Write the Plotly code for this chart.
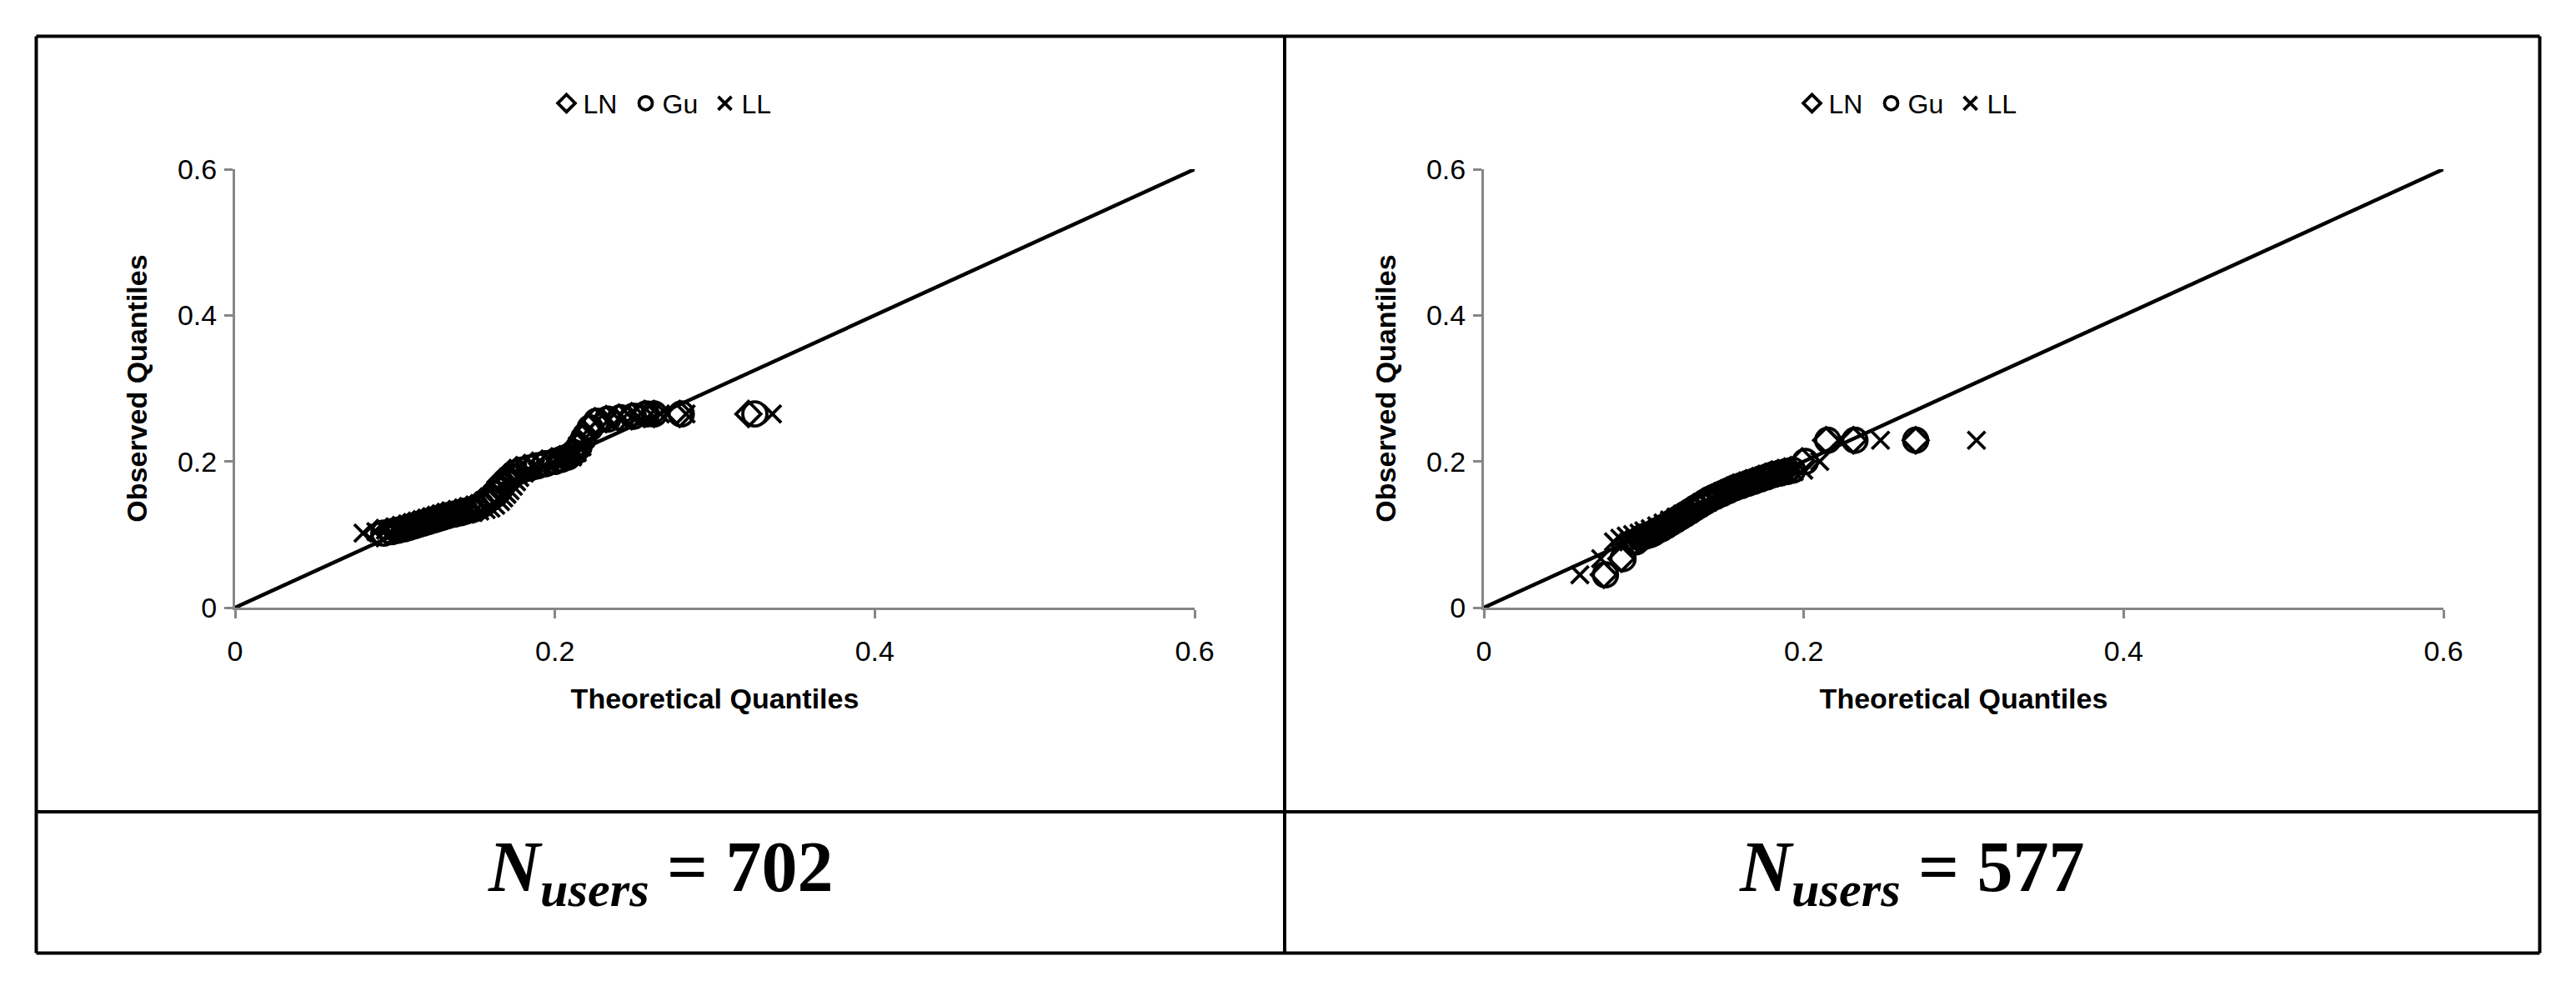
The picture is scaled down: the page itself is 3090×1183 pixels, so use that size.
import plotly.graph_objects as go

W, H = 3090, 1183

# ---------------- data ----------------
dist_names = ["LN", "Gu", "LL"]
n_users = [702, 577]
tick_vals = [0, 0.2, 0.4, 0.6]
tick_text = ["0", "0.2", "0.4", "0.6"]
diag_line = [0, 0.6]

# Panel 1: N_users = 702  (observed quantiles, theoretical quantiles per distribution)
obs_702 = [0.102, 0.104, 0.106, 0.108, 0.110, 0.112, 0.114, 0.116, 0.118, 0.120,
           0.122, 0.124, 0.126, 0.128, 0.130, 0.132, 0.134, 0.136, 0.140, 0.145,
           0.150, 0.155, 0.160, 0.166, 0.172, 0.178, 0.184, 0.188, 0.191, 0.194,
           0.197, 0.200, 0.203, 0.206, 0.212, 0.220, 0.232, 0.246, 0.255, 0.258,
           0.260, 0.262, 0.265, 0.265, 0.265, 0.265]
ln_702 = [0.089, 0.095, 0.099, 0.103, 0.106, 0.109, 0.112, 0.115, 0.118, 0.121,
          0.124, 0.127, 0.130, 0.134, 0.138, 0.141, 0.145, 0.148, 0.151, 0.154,
          0.157, 0.160, 0.162, 0.164, 0.166, 0.169, 0.172, 0.176, 0.181, 0.186,
          0.192, 0.198, 0.203, 0.207, 0.211, 0.214, 0.217, 0.221, 0.225, 0.232,
          0.240, 0.248, 0.256, 0.262, 0.278, 0.321]
gu_702 = [0.093, 0.098, 0.102, 0.106, 0.109, 0.112, 0.115, 0.118, 0.121, 0.124,
          0.127, 0.130, 0.133, 0.137, 0.141, 0.144, 0.148, 0.151, 0.154, 0.157,
          0.160, 0.163, 0.165, 0.167, 0.169, 0.172, 0.175, 0.179, 0.184, 0.189,
          0.194, 0.200, 0.204, 0.208, 0.212, 0.215, 0.218, 0.222, 0.226, 0.233,
          0.241, 0.249, 0.257, 0.262, 0.279, 0.325]
ll_702 = [0.080, 0.088, 0.094, 0.099, 0.104, 0.108, 0.112, 0.116, 0.120, 0.125,
          0.129, 0.134, 0.139, 0.144, 0.149, 0.153, 0.157, 0.160, 0.163, 0.166,
          0.168, 0.170, 0.172, 0.174, 0.176, 0.178, 0.181, 0.184, 0.188, 0.193,
          0.198, 0.203, 0.207, 0.211, 0.214, 0.217, 0.219, 0.222, 0.226, 0.234,
          0.243, 0.252, 0.260, 0.266, 0.282, 0.336]

# Panel 2: N_users = 577
obs_577 = [0.045, 0.067, 0.090, 0.095, 0.098, 0.100, 0.102, 0.105, 0.108, 0.112,
           0.116, 0.120, 0.124, 0.128, 0.132, 0.136, 0.140, 0.144, 0.148, 0.152,
           0.156, 0.160, 0.164, 0.167, 0.170, 0.173, 0.176, 0.179, 0.182, 0.184,
           0.186, 0.188, 0.200, 0.229, 0.229, 0.229]
ln_577 = [0.075, 0.086, 0.094, 0.097, 0.100, 0.103, 0.105, 0.107, 0.110, 0.113,
          0.116, 0.119, 0.122, 0.125, 0.128, 0.131, 0.134, 0.137, 0.140, 0.144,
          0.148, 0.152, 0.156, 0.160, 0.164, 0.168, 0.172, 0.176, 0.180, 0.184,
          0.188, 0.192, 0.199, 0.214, 0.231, 0.270]
gu_577 = [0.076, 0.087, 0.095, 0.098, 0.101, 0.104, 0.106, 0.108, 0.111, 0.114,
          0.117, 0.120, 0.123, 0.126, 0.129, 0.132, 0.135, 0.138, 0.141, 0.145,
          0.149, 0.153, 0.157, 0.161, 0.165, 0.169, 0.173, 0.177, 0.181, 0.185,
          0.189, 0.193, 0.201, 0.215, 0.232, 0.270]
ll_577 = [0.060, 0.073, 0.081, 0.085, 0.089, 0.093, 0.097, 0.100, 0.104, 0.108,
          0.112, 0.116, 0.120, 0.124, 0.128, 0.132, 0.136, 0.140, 0.143, 0.147,
          0.151, 0.155, 0.159, 0.163, 0.167, 0.171, 0.175, 0.179, 0.184, 0.189,
          0.194, 0.200, 0.210, 0.222, 0.248, 0.308]

panels = [
    (obs_702, [ln_702, gu_702, ll_702]),
    (obs_577, [ln_577, gu_577, ll_577]),
]

# ---------------- styles ----------------
marker_styles = {
    "LN": dict(symbol="diamond-open", size=23),
    "Gu": dict(symbol="circle-open", size=29),
    "LL": dict(symbol="x-thin-open", size=21),
}
SANS = "Liberation Sans, Arial, sans-serif"
TICK_FONT = dict(family=SANS, size=34, color="black")
AXIS_GRAY = "#868686"


def px_x(p):
    return p / W


def px_y(p):
    return 1 - p / H


x_domains = [[px_x(282), px_x(1433)], [px_x(1780), px_x(2931)]]
y_domain = [px_y(729), px_y(203)]

fig = go.Figure()

for i, (obs, theos) in enumerate(panels):
    xa = "x" if i == 0 else "x2"
    ya = "y" if i == 0 else "y2"
    leg = "legend" if i == 0 else "legend2"
    for name, theo in zip(dist_names, theos):
        st = marker_styles[name]
        fig.add_trace(go.Scatter(
            x=theo, y=obs, mode="markers", name=name,
            xaxis=xa, yaxis=ya, legend=leg,
            marker=dict(symbol=st["symbol"], size=st["size"], color="black",
                        line=dict(color="black", width=3.8)),
        ))
    fig.add_trace(go.Scatter(
        x=diag_line, y=diag_line, mode="lines", xaxis=xa, yaxis=ya,
        line=dict(color="black", width=4.5), showlegend=False, hoverinfo="skip",
    ))

axis_common = dict(
    range=[0, 0.6], tickvals=tick_vals, ticktext=tick_text, automargin=False,
    showgrid=False, zeroline=False, showline=True, linecolor=AXIS_GRAY, linewidth=3,
    ticks="outside", ticklen=10, tickwidth=3, tickcolor=AXIS_GRAY,
    tickfont=TICK_FONT, fixedrange=True,
)

for i in range(2):
    sfx = "" if i == 0 else "2"
    fig.layout["xaxis" + sfx] = dict(
        axis_common, domain=x_domains[i], anchor="y" + sfx,
        ticklabelstandoff=10,
        title=dict(text="<b>Theoretical Quantiles</b>",
                   font=dict(family=SANS, size=34, color="black"), standoff=28),
    )
    fig.layout["yaxis" + sfx] = dict(
        axis_common, domain=y_domain, anchor="x" + sfx,
        ticklabelstandoff=2,
        title=dict(text="<b>Observed Quantiles</b>",
                   font=dict(family=SANS, size=34, color="black"), standoff=27),
    )

legend_common = dict(
    orientation="h", xanchor="center", yanchor="middle", y=px_y(124),
    font=dict(family=SANS, size=32, color="black"), entrywidth=50,
    bgcolor="rgba(0,0,0,0)", borderwidth=0, itemclick=False, itemdoubleclick=False,
)
fig.layout.legend = dict(legend_common, x=px_x(802))
fig.layout.legend2 = dict(legend_common, x=px_x(2296))

# frame (table) lines
L, R, T, B = 43.5, 3046.5, 43.5, 1143.5
VX, HY = 1541, 974
lines = [
    (L, T, R, T), (L, B, R, B), (L, T, L, B), (R, T, R, B),
    (VX, T, VX, B), (L, HY, R, HY),
]
shapes = []
for x0, y0, x1, y1 in lines:
    shapes.append(dict(type="line", xref="paper", yref="paper",
                       x0=px_x(x0), y0=px_y(y0), x1=px_x(x1), y1=px_y(y1),
                       line=dict(color="black", width=4)))
fig.layout.shapes = shapes

annotations = []
for i, n in enumerate(n_users):
    cx = (L + VX) / 2 if i == 0 else (VX + R) / 2
    annotations.append(dict(
        xref="paper", yref="paper", x=px_x(cx), y=px_y(1046),
        xanchor="center", yanchor="middle", showarrow=False,
        text=f"<b><i>N</i></b><sub><b><i>users</i></b></sub><b> = {n}</b>",
        font=dict(family="Liberation Serif, Times New Roman, serif", size=86, color="black"),
    ))
fig.layout.annotations = annotations

fig.update_layout(
    template="none",
    width=W, height=H, margin=dict(l=0, r=0, t=0, b=0, pad=0, autoexpand=False),
    paper_bgcolor="white", plot_bgcolor="white", showlegend=True,
)

fig.write_html("out.html")
